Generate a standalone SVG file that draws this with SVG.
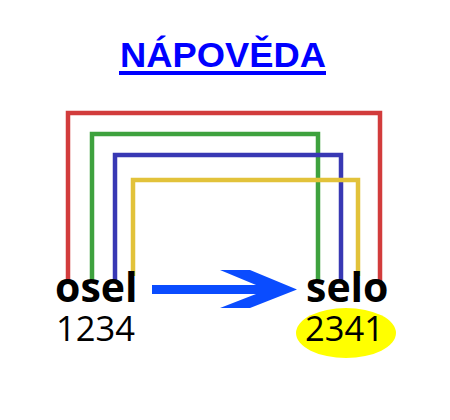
<svg xmlns="http://www.w3.org/2000/svg" width="450" height="420" viewBox="0 0 450 420">
  <style>
    .wire { fill: none; stroke-width: 4.5; stroke-linejoin: miter; stroke-linecap: butt; }
    .word { font-family: "Open Sans", "DejaVu Sans", sans-serif; font-weight: bold; font-size: 41px; fill: #000; }
    .num { font-family: "Open Sans", "DejaVu Sans", sans-serif; font-size: 34.5px; fill: #000; }
    .title { font-family: "Liberation Sans", Arial, sans-serif; font-weight: bold; font-size: 35px; fill: #0000ff; }
  </style>
  <rect width="450" height="420" fill="#ffffff"/>
  <g id="title">
    <text class="title" x="120" y="67" textLength="206" lengthAdjust="spacingAndGlyphs">NÁPOVĚDA</text>
    <rect x="119" y="71" width="207" height="4" fill="#0000ff"/>
  </g>
  <g id="connectors">
    <polyline class="wire" stroke="#d23c3c" points="68,282 68,113 380,113 380,282"/>
    <polyline class="wire" stroke="#3ea23e" points="92,282 92,134 318,134 318,282"/>
    <polyline class="wire" stroke="#3838b4" points="115,282 115,155 341,155 341,282"/>
    <polyline class="wire" stroke="#e2c23a" points="133,276 133,180 358,180 358,276"/>
    <polygon id="arrow" fill="#0a4cff" points="152,285 256,285 220,270 250,270 297,289.5 250,308 220,308 256,294 152,294"/>
  </g>
  <g id="osel">
    <text class="word" x="55" y="302">osel</text>
    <text class="num" x="56" y="341">1234</text>
  </g>
  <g id="selo">
    <ellipse cx="346" cy="333" rx="50" ry="25" fill="#ffff00"/>
    <text class="word" x="306" y="302">selo</text>
    <text class="num" x="305" y="341">2341</text>
  </g>
</svg>
